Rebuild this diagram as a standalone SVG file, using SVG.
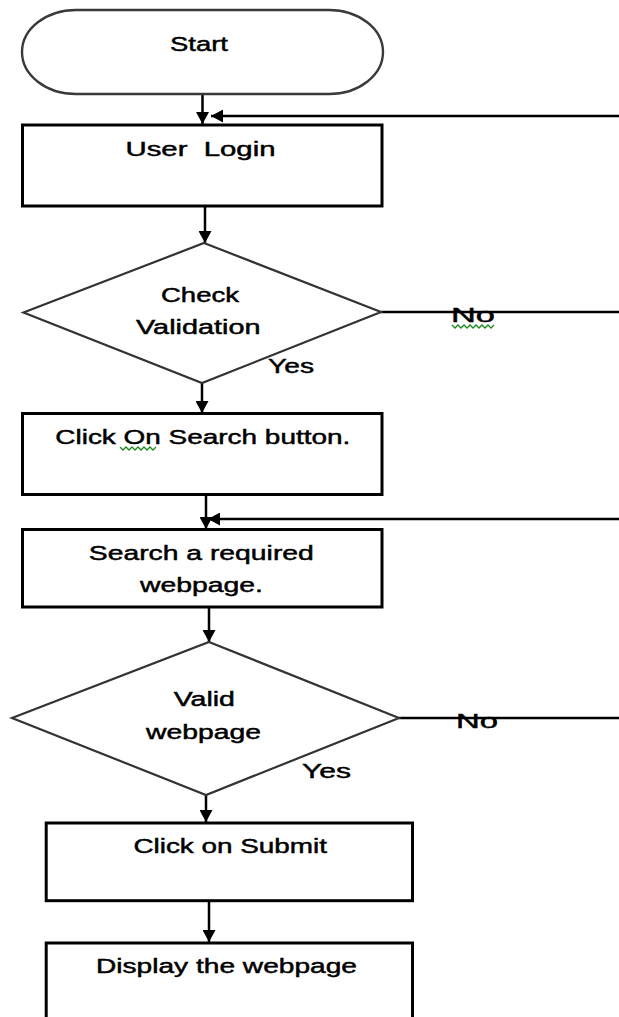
<svg xmlns="http://www.w3.org/2000/svg" width="619" height="1017" viewBox="0 0 619 1017">
  <style>
    .box { fill: #fff; stroke: #000; stroke-width: 3; }
    .term { fill: #fff; stroke: #3a3a3a; stroke-width: 2.4; }
    .dec { fill: #fff; stroke: #333; stroke-width: 2.2; }
    .lbl { font-family: "Liberation Sans", Arial, sans-serif; font-size: 20px; fill: #000; stroke: #000; stroke-width: 0.45; }
    .edge { fill: none; stroke: #000; stroke-width: 2.5; }
    .squig { fill: none; stroke: #1a8a1a; stroke-width: 1.3; }
  </style>
  <defs>
    <marker id="arrow" markerUnits="userSpaceOnUse" markerWidth="13" markerHeight="13" refX="12" refY="6.5" orient="auto">
      <path d="M0,0 L12,6.5 L0,13 z" fill="#000"/>
    </marker>
  </defs>

  <rect width="619" height="1017" fill="#fff"/>

  <!-- connectors -->
  <g id="connectors">
    <line class="edge" x1="202.5" y1="94" x2="202.5" y2="124" marker-end="url(#arrow)"/>
    <line class="edge" x1="619" y1="116" x2="211" y2="116" marker-end="url(#arrow)"/>
    <line class="edge" x1="205" y1="206" x2="205" y2="243" marker-end="url(#arrow)"/>
    <line class="edge" x1="381" y1="312" x2="619" y2="312"/>
    <line class="edge" x1="202" y1="383" x2="202" y2="413" marker-end="url(#arrow)"/>
    <line class="edge" x1="206" y1="495" x2="206" y2="529" marker-end="url(#arrow)"/>
    <line class="edge" x1="619" y1="519" x2="208" y2="519" marker-end="url(#arrow)"/>
    <line class="edge" x1="209" y1="607" x2="209" y2="642" marker-end="url(#arrow)"/>
    <line class="edge" x1="399" y1="718" x2="619" y2="718"/>
    <line class="edge" x1="206" y1="795" x2="206" y2="822" marker-end="url(#arrow)"/>
    <line class="edge" x1="209" y1="901" x2="209" y2="942" marker-end="url(#arrow)"/>
    <text class="lbl" x="451" y="322" textLength="44" lengthAdjust="spacingAndGlyphs">No</text>
    <polyline class="squig" points="452,325 455,328 458,325 461,328 464,325 467,328 470,325 473,328 476,325 479,328 482,325 485,328 488,325 491,328 494,325"/>
    <text class="lbl" x="268" y="373" textLength="46" lengthAdjust="spacingAndGlyphs">Yes</text>
    <text class="lbl" x="456" y="728" textLength="42" lengthAdjust="spacingAndGlyphs">No</text>
    <text class="lbl" x="302" y="778" textLength="49" lengthAdjust="spacingAndGlyphs">Yes</text>
  </g>

  <g id="start">
    <rect class="term" x="22" y="10" width="361" height="84" rx="54" ry="42"/>
    <text class="lbl" x="170" y="51" textLength="58" lengthAdjust="spacingAndGlyphs">Start</text>
  </g>

  <g id="user-login">
    <rect class="box" x="22.5" y="125" width="359.5" height="81"/>
    <text class="lbl" x="125.5" y="156" textLength="150" lengthAdjust="spacingAndGlyphs" xml:space="preserve">User  Login</text>
  </g>

  <g id="check-validation">
    <polygon class="dec" points="204,243 381,312 202,383 23.5,312.5"/>
    <text class="lbl" x="161" y="302" textLength="78" lengthAdjust="spacingAndGlyphs">Check</text>
    <text class="lbl" x="136" y="334" textLength="124.5" lengthAdjust="spacingAndGlyphs">Validation</text>
  </g>

  <g id="click-search">
    <rect class="box" x="22.5" y="413.5" width="359.5" height="81"/>
    <text class="lbl" x="55.3" y="444" textLength="295" lengthAdjust="spacingAndGlyphs">Click On Search button.</text>
    <polyline class="squig" points="120,447 123,450 126,447 129,450 132,447 135,450 138,447 141,450 144,447 147,450 150,447 153,450 156,447"/>
  </g>

  <g id="search-webpage">
    <rect class="box" x="22.5" y="529.5" width="359.5" height="77.5"/>
    <text class="lbl" x="88.8" y="560" textLength="225" lengthAdjust="spacingAndGlyphs">Search a required</text>
    <text class="lbl" x="140" y="592" textLength="123" lengthAdjust="spacingAndGlyphs">webpage.</text>
  </g>

  <g id="valid-webpage">
    <polygon class="dec" points="209,642 399,718 206,795 12,718"/>
    <text class="lbl" x="173.7" y="706" textLength="61.3" lengthAdjust="spacingAndGlyphs">Valid</text>
    <text class="lbl" x="146" y="739" textLength="115" lengthAdjust="spacingAndGlyphs">webpage</text>
  </g>

  <g id="click-submit">
    <rect class="box" x="46.2" y="823" width="366.3" height="77.7"/>
    <text class="lbl" x="133.4" y="853" textLength="193.6" lengthAdjust="spacingAndGlyphs">Click on Submit</text>
  </g>

  <g id="display-webpage">
    <rect class="box" x="46.2" y="943" width="366.3" height="90"/>
    <text class="lbl" x="96" y="973" textLength="261" lengthAdjust="spacingAndGlyphs">Display the webpage</text>
  </g>
</svg>
